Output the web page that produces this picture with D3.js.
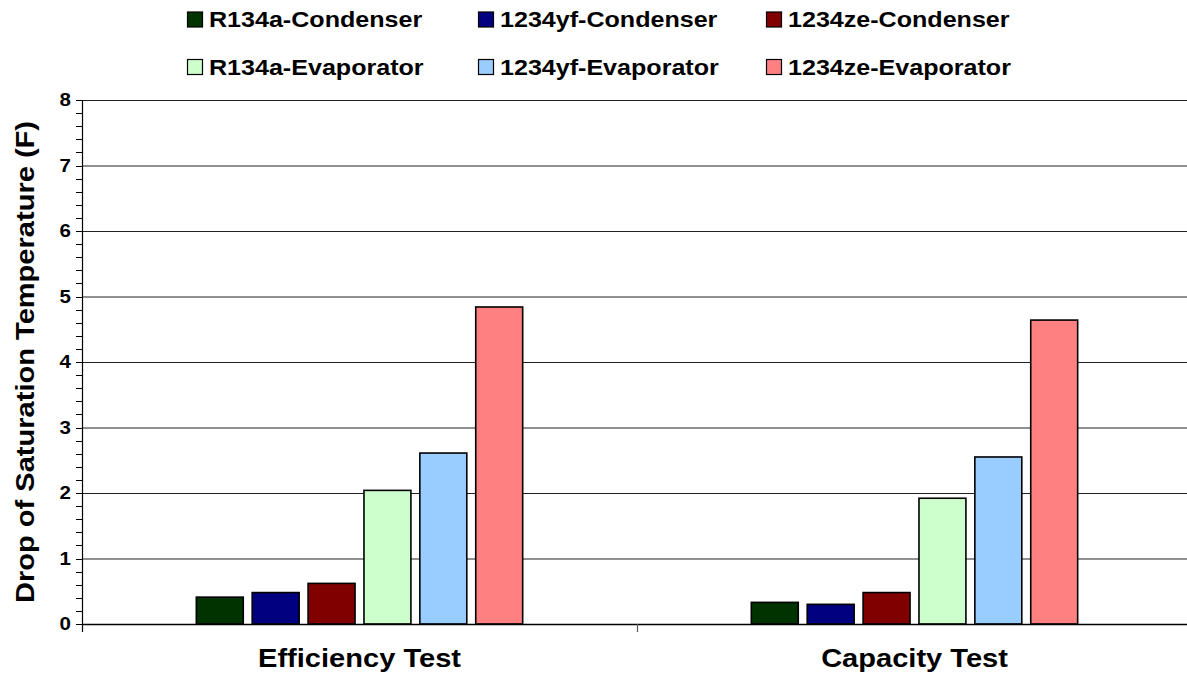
<!DOCTYPE html>
<html><head><meta charset="utf-8">
<script src="https://cdn.jsdelivr.net/npm/d3@7"></script>
<style>body{margin:0;background:#fff}svg{display:block}text{font-family:"Liberation Sans",Arial,sans-serif;font-weight:bold;fill:#000}</style>
</head><body>
<svg id="c" width="1187" height="675"></svg>
<script>
const categories = ["Efficiency Test", "Capacity Test"];
const seriesNames = ["R134a-Condenser","1234yf-Condenser","1234ze-Condenser","R134a-Evaporator","1234yf-Evaporator","1234ze-Evaporator"];
const seriesColors = ["#003300","#000080","#800000","#CCFFCC","#99CCFF","#FF8080"];
const efficiencyValues = [0.41, 0.48, 0.62, 2.04, 2.61, 4.84];
const capacityValues = [0.33, 0.30, 0.48, 1.92, 2.55, 4.64];
const yTicks = [0,1,2,3,4,5,6,7,8];
const yTitle = "Drop of Saturation Temperature (F)";

const SX = 1.14; // horizontal stretch of the reference's text
const valuesByCat = [efficiencyValues, capacityValues];
const svg = d3.select("#c");
const L = 82, R = 1192, T = 100, B = 624;

const y = d3.scaleLinear().domain([0,8]).range([B,T]);
const x0 = d3.scaleBand().domain(categories).range([L,R]).padding(0);
const groupW = x0.bandwidth()*0.588;
const x1 = d3.scaleBand().domain(seriesNames).range([0,groupW]).paddingInner(0.16);
const off = (x0.bandwidth()-groupW)/2;

// gridlines
svg.append("g").selectAll("line").data(yTicks.filter(d=>d>0)).join("line")
  .attr("x1",L).attr("x2",R).attr("y1",d=>y(d)+0.5).attr("y2",d=>y(d)+0.5)
  .attr("stroke","#222").attr("stroke-width",1.2);

// bars
categories.forEach((c,ci)=>{
  svg.append("g").selectAll("rect").data(valuesByCat[ci]).join("rect")
    .attr("x",(d,i)=>x0(c)+off+x1(seriesNames[i]))
    .attr("width",x1.bandwidth())
    .attr("y",d=>y(d))
    .attr("height",d=>y(0)-y(d))
    .attr("fill",(d,i)=>seriesColors[i])
    .attr("stroke","#000").attr("stroke-width",1.6);
});

// y axis
const minor = d3.range(0,8.01,0.2);
const ya = svg.append("g");
ya.selectAll("line.mt").data(minor).join("line")
  .attr("x1",L-6).attr("x2",L).attr("y1",d=>Math.round(y(d))+0.5).attr("y2",d=>Math.round(y(d))+0.5)
  .attr("stroke","#000").attr("stroke-width",1);
ya.append("line").attr("x1",L+0.5).attr("x2",L+0.5).attr("y1",T).attr("y2",B+8).attr("stroke","#000").attr("stroke-width",1.2);
ya.selectAll("text").data(yTicks).join("text")
  .attr("transform",d=>`translate(${L-11},${y(d)}) scale(${SX},1)`).attr("dy","0.36em")
  .attr("text-anchor","end").style("font-size","18px").text(d=>d);

// x axis
svg.append("line").attr("x1",L).attr("x2",R).attr("y1",B+0.5).attr("y2",B+0.5).attr("stroke","#000").attr("stroke-width",1.5);
svg.append("g").selectAll("line").data(categories.slice(1)).join("line")
  .attr("x1",d=>x0(d)+0.5).attr("x2",d=>x0(d)+0.5).attr("y1",B).attr("y2",B+8)
  .attr("stroke","#555").attr("stroke-width",1.2);
svg.append("g").selectAll("text").data(categories).join("text")
  .attr("transform",d=>`translate(${x0(d)+x0.bandwidth()/2},667) scale(${SX},1)`)
  .attr("text-anchor","middle").style("font-size","25.5px").text(d=>d);

// y title
svg.append("text").attr("transform",`translate(34,${(T+B)/2}) rotate(-90) scale(${SX},1)`)
  .attr("text-anchor","middle").style("font-size","25.5px").text(yTitle);

// legend
const colX = [187, 478, 766];
const rowY = [19.5, 67];
const lg = svg.append("g").selectAll("g").data(seriesNames).join("g")
  .attr("transform",(d,i)=>`translate(${colX[i%3]},${rowY[Math.floor(i/3)]})`);
lg.append("rect").attr("x",0.5).attr("y",-7.5).attr("width",15).attr("height",15)
  .attr("fill",(d,i)=>seriesColors[i]).attr("stroke","#000").attr("stroke-width",1.2);
lg.append("text").attr("transform",`translate(22,0) scale(${SX},1)`).attr("dy","0.36em").style("font-size","22px").text(d=>d);
</script>
</body></html>
